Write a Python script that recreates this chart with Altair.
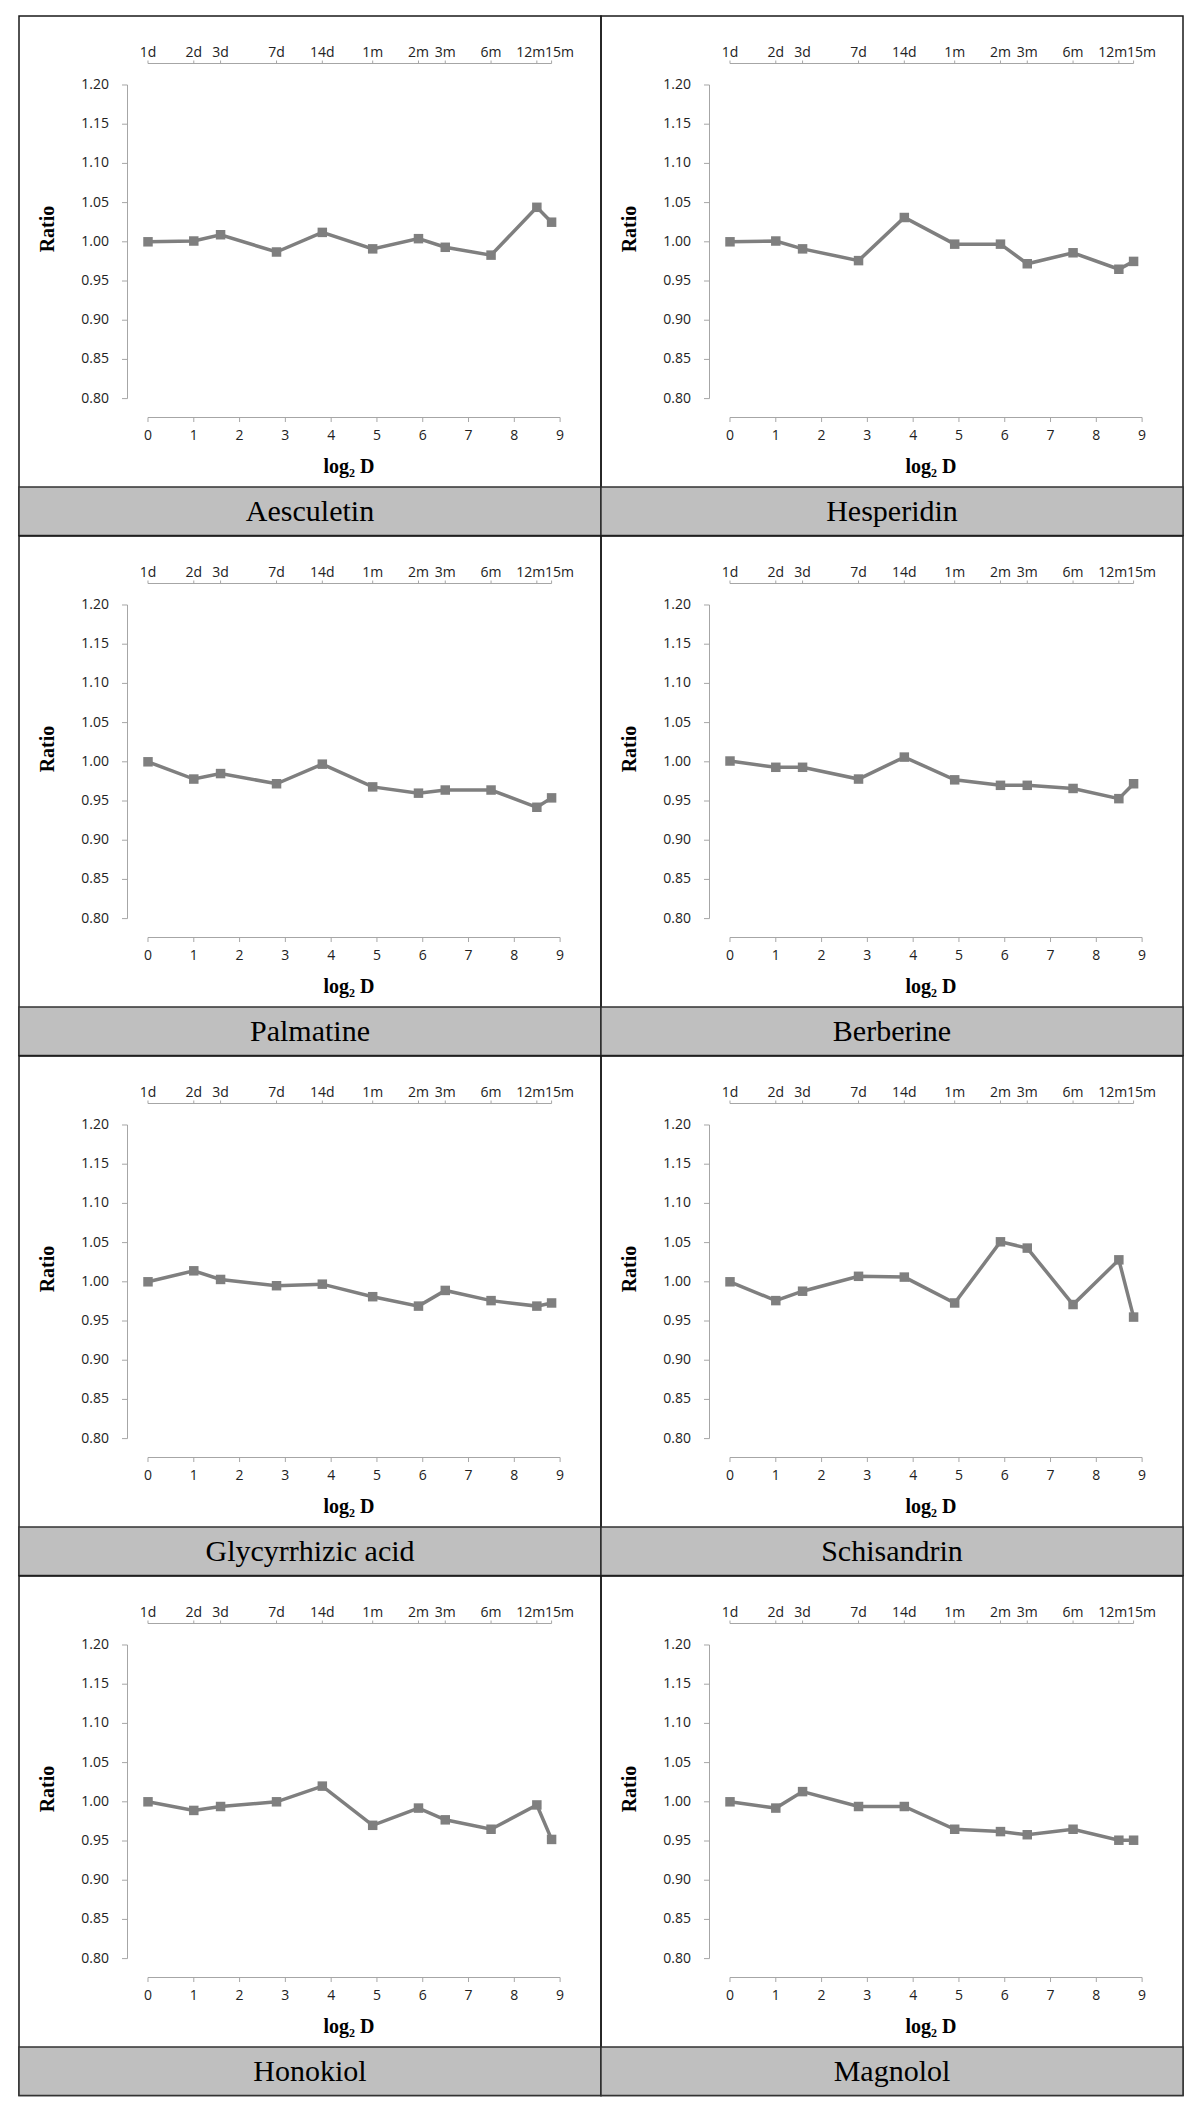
import altair as alt
import pandas as pd

# ---- data ----
log2_days = [0, 1, 1.585, 2.807, 3.807, 4.907, 5.907, 6.492, 7.492, 8.492, 8.814]
period_labels = ["1d", "2d", "3d", "7d", "14d", "1m", "2m", "3m", "6m", "12m", "15m"]
y_ticks = [0.80, 0.85, 0.90, 0.95, 1.00, 1.05, 1.10, 1.15, 1.20]
x_ticks = [0, 1, 2, 3, 4, 5, 6, 7, 8, 9]

aesculetin = [1.000, 1.001, 1.009, 0.987, 1.012, 0.991, 1.004, 0.993, 0.983, 1.044, 1.025]
hesperidin = [1.000, 1.001, 0.991, 0.976, 1.031, 0.997, 0.997, 0.972, 0.986, 0.965, 0.975]
palmatine = [1.000, 0.978, 0.985, 0.972, 0.997, 0.968, 0.960, 0.964, 0.964, 0.942, 0.954]
berberine = [1.001, 0.993, 0.993, 0.978, 1.006, 0.977, 0.970, 0.970, 0.966, 0.953, 0.972]
glycyrrhizic = [1.000, 1.014, 1.003, 0.995, 0.997, 0.981, 0.969, 0.989, 0.976, 0.969, 0.973]
schisandrin = [1.000, 0.976, 0.988, 1.007, 1.006, 0.973, 1.051, 1.043, 0.971, 1.028, 0.955]
honokiol = [1.000, 0.989, 0.994, 1.000, 1.020, 0.970, 0.992, 0.977, 0.965, 0.996, 0.952]
magnolol = [1.000, 0.992, 1.013, 0.994, 0.994, 0.965, 0.962, 0.958, 0.965, 0.951, 0.951]

panels = [
    ("Aesculetin", aesculetin), ("Hesperidin", hesperidin),
    ("Palmatine", palmatine), ("Berberine", berberine),
    ("Glycyrrhizic acid", glycyrrhizic), ("Schisandrin", schisandrin),
    ("Honokiol", honokiol), ("Magnolol", magnolol),
]

# ---- styling ----
W, H = 582, 519.5
LINE = "#7f7f7f"
AXIS = "#a6a6a6"
LABEL = "#222222"
SANS = "Open Sans"
SERIF = "Liberation Serif"

xs = alt.Scale(domain=[-2.8172, 9.8930], nice=False, zero=False)
ys = alt.Scale(domain=[0.6254, 1.2880], nice=False, zero=False)


def X(f):
    return alt.X(f, scale=xs, axis=None)


def Y(f):
    return alt.Y(f, scale=ys, axis=None)


def cell(name, values):
    series = pd.DataFrame({"x": log2_days, "y": values})
    yt = pd.DataFrame({"v": y_ticks})
    xt = pd.DataFrame({"v": x_ticks})
    tt = pd.DataFrame({"v": log2_days, "lbl": period_labels})
    yext = pd.DataFrame({"lo": [min(y_ticks)], "hi": [max(y_ticks)]})
    xext = pd.DataFrame({"lo": [min(x_ticks)], "hi": [max(x_ticks)]})
    text_ext = pd.DataFrame({"lo": [min(log2_days)], "hi": [max(log2_days)]})

    layers = []
    # y axis
    layers.append(alt.Chart(yext).mark_rule(color=AXIS, strokeWidth=1).encode(
        x=alt.value(108.5), y=Y("hi:Q"), y2="lo:Q"))
    layers.append(alt.Chart(yt).mark_rule(color=AXIS, strokeWidth=1).encode(
        x=alt.value(103), x2=alt.value(108.5), y=Y("v:Q")))
    layers.append(alt.Chart(yt).mark_text(font=SANS, fontSize=14, color=LABEL, align="right").encode(
        x=alt.value(90), y=Y("v:Q"), text=alt.Text("v:Q", format=".2f")))
    # bottom x axis
    layers.append(alt.Chart(xext).mark_rule(color=AXIS, strokeWidth=1).encode(
        x=X("lo:Q"), x2="hi:Q", y=alt.value(401.5)))
    layers.append(alt.Chart(xt).mark_rule(color=AXIS, strokeWidth=1).encode(
        x=X("v:Q"), y=alt.value(401.5), y2=alt.value(406)))
    layers.append(alt.Chart(xt).mark_text(font=SANS, fontSize=14, color=LABEL).encode(
        x=X("v:Q"), y=alt.value(420), text=alt.Text("v:Q", format="d")))
    # top period axis
    layers.append(alt.Chart(text_ext).mark_rule(color=AXIS, strokeWidth=1).encode(
        x=X("lo:Q"), x2="hi:Q", y=alt.value(47.5)))
    layers.append(alt.Chart(tt).mark_rule(color=AXIS, strokeWidth=1).encode(
        x=X("v:Q"), y=alt.value(44.5), y2=alt.value(47.5)))
    layers.append(alt.Chart(tt.iloc[:9]).mark_text(font=SANS, fontSize=14, color=LABEL).encode(
        x=X("v:Q"), y=alt.value(37), text="lbl:N"))
    layers.append(alt.Chart(tt.iloc[9:10]).mark_text(font=SANS, fontSize=14, color=LABEL,
                                                     align="right", dx=8.5).encode(
        x=X("v:Q"), y=alt.value(37), text="lbl:N"))
    layers.append(alt.Chart(tt.iloc[10:11]).mark_text(font=SANS, fontSize=14, color=LABEL,
                                                      align="left", dx=-6.5).encode(
        x=X("v:Q"), y=alt.value(37), text="lbl:N"))
    # axis titles
    layers.append(alt.Chart(pd.DataFrame({"t": ["Ratio"]})).mark_text(
        font=SERIF, fontSize=20, fontWeight="bold", color="black", angle=270).encode(
        x=alt.value(29), y=alt.value(213), text="t:N"))
    layers.append(alt.Chart(pd.DataFrame({"t": ["log\u2082 D"]})).mark_text(
        font=SERIF, fontSize=20, fontWeight="bold", color="black").encode(
        x=alt.value(330), y=alt.value(451), text="t:N"))
    # data
    layers.append(alt.Chart(series).mark_line(color=LINE, strokeWidth=3.5).encode(
        x=X("x:Q"), y=Y("y:Q")))
    layers.append(alt.Chart(series).mark_point(shape="square", filled=True, size=90,
                                               color=LINE, opacity=1).encode(
        x=X("x:Q"), y=Y("y:Q")))
    # grey name bar
    layers.append(alt.Chart(pd.DataFrame({"t": [name]})).mark_rect(
        fill="#bfbfbf", stroke="#333333", strokeWidth=1.5).encode(
        x=alt.value(0), x2=alt.value(W), y=alt.value(471), y2=alt.value(H)))
    layers.append(alt.Chart(pd.DataFrame({"t": [name]})).mark_text(
        font=SERIF, fontSize=30, color="black").encode(
        x=alt.value(W / 2), y=alt.value(496), text="t:N"))

    return alt.layer(*layers).properties(width=W, height=H)


cells = [cell(n, v) for n, v in panels]

chart = alt.concat(*cells, columns=2, spacing=0, bounds="flush").properties(
    padding={"left": 9, "top": 7, "right": 0, "bottom": 0}
).configure_view(stroke="#1a1a1a", strokeWidth=1.5)

chart.save("out.html", embed_options={"renderer": "svg", "actions": False})
